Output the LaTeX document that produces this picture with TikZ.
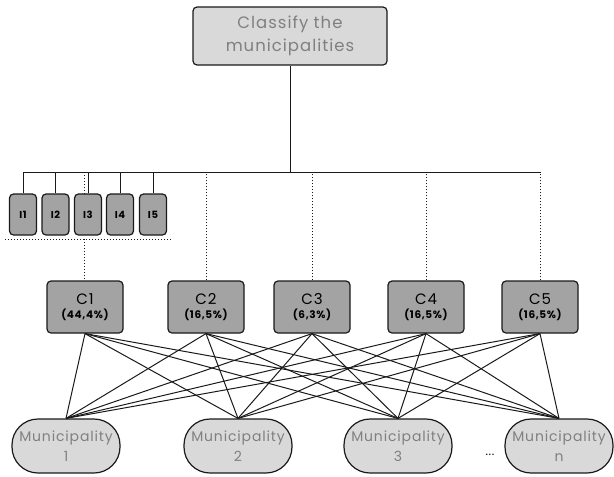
\documentclass[tikz,border=0pt]{standalone}
\usepackage{fontspec}
\setmainfont{Poppins}[LetterSpace=6]
\usetikzlibrary{shapes.misc}
\definecolor{lgray}{HTML}{D9D9D9}
\definecolor{dgray}{HTML}{A3A3A3}
\definecolor{tgray}{HTML}{808080}
\definecolor{lcol}{HTML}{1A1A1A}
\begin{document}
\begin{tikzpicture}[x=1pt,y=-1pt,
  topbox/.style={draw=lcol,line width=1.2pt,fill=lgray,rounded corners=4pt,minimum width=194pt,minimum height=58pt,text=tgray,align=center,font=\fontsize{16.5}{23}\selectfont,inner sep=0pt},
  ibox/.style={draw=lcol,line width=1.2pt,fill=dgray,rounded corners=4pt,minimum width=27pt,minimum height=41pt,inner sep=0pt,font=\fontsize{10}{12}\selectfont\bfseries},
  cbox/.style={draw=lcol,line width=1.2pt,fill=dgray,rounded corners=4pt,minimum width=76pt,minimum height=52pt,inner sep=0pt,align=center},
  mbox/.style={draw=lcol,line width=1.2pt,fill=lgray,rounded corners=26pt,minimum width=108pt,minimum height=54pt,inner sep=0pt,align=center,text=tgray,font=\fontsize{14}{20}\selectfont},
  conn/.style={draw=lcol,line width=1pt},
  dot/.style={draw=lcol,line width=1pt,dotted}]
\useasboundingbox (0,0) rectangle (614,477);
\node[topbox] (top) at (290,36) {Classify the\\municipalities};
\node[ibox] (I1) at (23,214.5) {I1};
\node[ibox] (I2) at (55.5,214.5) {I2};
\node[ibox] (I3) at (88,214.5) {I3};
\node[ibox] (I4) at (120,214.5) {I4};
\node[ibox] (I5) at (153,214.5) {I5};
\newcommand{\ctext}[2]{{\fontsize{15}{18}\selectfont #1}\\[2pt]{\fontsize{10.5}{12}\selectfont\bfseries #2}}
\node[cbox] (C1) at (85,307) {\ctext{C1}{(44,4\%)}};
\node[cbox] (C2) at (206,307) {\ctext{C2}{(16,5\%)}};
\node[cbox] (C3) at (312,307) {\ctext{C3}{(6,3\%)}};
\node[cbox] (C4) at (426,307) {\ctext{C4}{(16,5\%)}};
\node[cbox] (C5) at (540,307) {\ctext{C5}{(16,5\%)}};
\node[mbox] (M1) at (66,446) {Municipality\\1};
\node[mbox] (M2) at (238,446) {Municipality\\2};
\node[mbox] (M3) at (398,446) {Municipality\\3};
\node[mbox] (Mn) at (559,446) {Municipality\\n};
\node[font=\fontsize{12}{12}\selectfont] (dots) at (490,455) {...};
\coordinate (hL) at (23,172);
\coordinate (hR) at (540,172);
\coordinate (dv) at (84,172);
\coordinate (dh1) at (5,239);
\coordinate (dh2) at (172,239);
\coordinate (d3) at (84,194);
\coordinate (d4) at (84,239);
\draw[conn] (top.south) -- (top.south |- hR);
\draw[conn] (hL) -- (hR);
\foreach \i in {I1,I2,I3,I4,I5} \draw[conn] (\i.north) -- (\i.north |- hR);
\foreach \c in {C2,C3,C4,C5} \draw[dot] (\c.north) -- (\c.north |- hR);
\draw[dot] (dv) -- (d3);
\draw[dot] (d4) -- (C1.north -| d4);
\draw[dot] (dh1) -- (dh2);
\foreach \c in {C1,C2,C3,C4,C5}
  \foreach \m in {M1,M2,M3,Mn}
    \draw[conn] (\c.south) -- (\m.north);
\end{tikzpicture}
\end{document}
